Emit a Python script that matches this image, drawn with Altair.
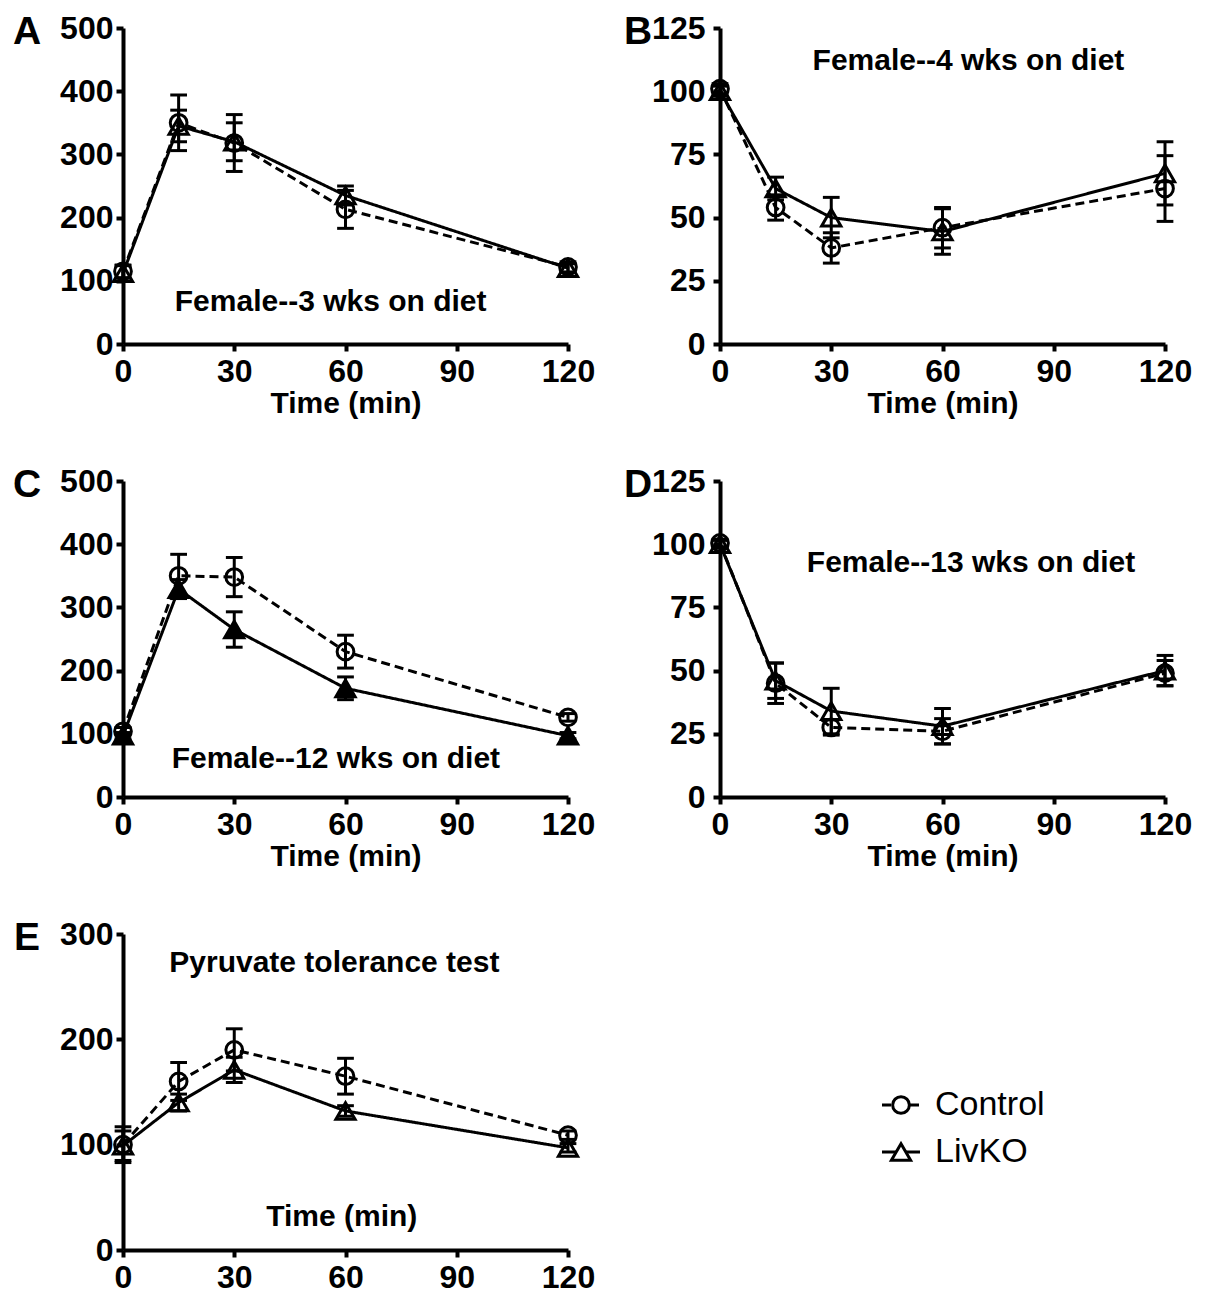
import altair as alt
import pandas as pd

# ---------------- data ----------------
times = [0, 15, 30, 60, 120]
series_names = ["Control", "LivKO"]

a_ctrl = [115, 350, 318, 213, 122]
a_ctrl_err = [10, 44, 45, 30, 8]
a_ko = [112, 345, 320, 235, 120]
a_ko_err = [12, 25, 30, 15, 7]

b_ctrl = [101, 54, 38, 46, 61.5]
b_ctrl_err = [2, 5, 6, 8, 13]
b_ko = [100, 61.5, 50, 44.5, 67.5]
b_ko_err = [2, 4.5, 8, 9, 12.5]

c_ctrl = [104, 350, 348, 230, 126]
c_ctrl_err = [6, 34, 31, 26, 6]
c_ko = [97, 329, 265, 172, 97]
c_ko_err = [5, 15, 28, 18, 5]

d_ctrl = [100.5, 45, 27.5, 26, 49]
d_ctrl_err = [1.5, 8, 3, 5, 5]
d_ko = [100, 46, 34, 28, 50]
d_ko_err = [1.5, 7, 9, 7, 6]

e_ctrl = [100, 160, 190, 165, 109]
e_ctrl_err = [17, 18, 20, 17, 4]
e_ko = [99, 140, 171, 132, 97]
e_ko_err = [14, 8, 12, 5, 4]

x_ticks = [0, 30, 60, 90, 120]

# ---------------- style ----------------
FONT = "Liberation Sans, Arial, Helvetica, sans-serif"
W, H = 445, 316
LW = 3

def make_panel(letter, ctrl, ctrl_err, ko, ko_err, ymax, ystep, notes,
               x_title=True, ko_filled=False, ypad=3):
    rows = []
    for s, vals, errs in (("Control", ctrl, ctrl_err), ("LivKO", ko, ko_err)):
        for t, v, e in zip(times, vals, errs):
            fill = "black" if (s == "LivKO" and ko_filled) else "transparent"
            rows.append({"time": t, "value": v, "lo": v - e, "hi": v + e,
                         "series": s, "fillc": fill})
    df = pd.DataFrame(rows)

    xaxis = alt.Axis(values=x_ticks, title="Time (min)" if x_title else "",
                     labelFlush=False, labelPadding=5, titlePadding=1)
    yaxis = alt.Axis(values=list(range(0, ymax + 1, ystep)), title="",
                     labelPadding=ypad)
    xs = alt.Scale(domain=[0, 120], nice=False, zero=False)
    ys = alt.Scale(domain=[0, ymax], nice=False)

    X = alt.X("time:Q", scale=xs, axis=xaxis)
    base = alt.Chart(df)

    rule = base.mark_rule(strokeWidth=LW, color="black").encode(
        x=X, y=alt.Y("lo:Q", scale=ys, axis=yaxis), y2="hi:Q")
    cap_lo = base.mark_point(shape="stroke", size=280, strokeWidth=LW,
                             color="black", opacity=1).encode(
        x=X, y=alt.Y("lo:Q", scale=ys, axis=yaxis))
    cap_hi = base.mark_point(shape="stroke", size=280, strokeWidth=LW,
                             color="black", opacity=1).encode(
        x=X, y=alt.Y("hi:Q", scale=ys, axis=yaxis))
    line = base.mark_line(strokeWidth=LW, color="black").encode(
        x=X, y=alt.Y("value:Q", scale=ys, axis=yaxis),
        detail="series:N",
        strokeDash=alt.StrokeDash("series:N", legend=None,
                                  scale=alt.Scale(domain=series_names,
                                                  range=[[9, 5], [1, 0]])))
    pts = base.mark_point(strokeWidth=LW, color="black", opacity=1).encode(
        x=X, y=alt.Y("value:Q", scale=ys, axis=yaxis),
        shape=alt.Shape("series:N", legend=None,
                        scale=alt.Scale(domain=series_names,
                                        range=["circle", "triangle-up"])),
        size=alt.Size("series:N", legend=None,
                      scale=alt.Scale(domain=series_names, range=[280, 370])),
        fill=alt.Fill("fillc:N", scale=None))

    layers = [rule, cap_lo, cap_hi, line, pts]
    for txt, tx, ty in notes:
        ndf = pd.DataFrame({"t": [txt], "x": [tx], "y": [ty]})
        layers.append(alt.Chart(ndf).mark_text(
            font=FONT, fontSize=30, fontWeight="bold", color="black",
            align="center", baseline="middle").encode(
            x=alt.X("x:Q", scale=xs, axis=xaxis),
            y=alt.Y("y:Q", scale=ys, axis=yaxis), text="t:N"))
    ldf = pd.DataFrame({"t": [letter]})
    layers.append(alt.Chart(ldf).mark_text(
        font=FONT, fontSize=39, fontWeight="bold", color="black",
        align="center", baseline="alphabetic").encode(
        x=alt.value(-96 if letter in "ACE" else -82), y=alt.value(16),
        text="t:N"))
    return alt.layer(*layers).properties(width=W, height=H)


pA = make_panel("A", a_ctrl, a_ctrl_err, a_ko, a_ko_err, 500, 100,
                [("Female--3 wks on diet", 56, 66)])
pB = make_panel("B", b_ctrl, b_ctrl_err, b_ko, b_ko_err, 125, 25,
                [("Female--4 wks on diet", 67, 112)], ypad=8)
pC = make_panel("C", c_ctrl, c_ctrl_err, c_ko, c_ko_err, 500, 100,
                [("Female--12 wks on diet", 57.4, 60)], ko_filled=True)
pD = make_panel("D", d_ctrl, d_ctrl_err, d_ko, d_ko_err, 125, 25,
                [("Female--13 wks on diet", 67.7, 92.7)], ypad=8)
pE = make_panel("E", e_ctrl, e_ctrl_err, e_ko, e_ko_err, 300, 100,
                [("Pyruvate tolerance test", 57, 272), ("Time (min)", 59, 31)],
                x_title=False)

# ---------------- legend ----------------
leg = pd.DataFrame({"series": series_names, "idx": [0, 1]})
ly = alt.Y("idx:Q", scale=alt.Scale(domain=[0, 1], range=[171, 218]), axis=None)
lbase = alt.Chart(leg)
leg_line = lbase.mark_rule(strokeWidth=LW, color="black").encode(
    x=alt.value(162), x2=alt.value(200), y=ly,
    strokeDash=alt.StrokeDash("series:N", legend=None,
                              scale=alt.Scale(domain=series_names,
                                              range=[[8, 5], [1, 0]])))
leg_pt = lbase.mark_point(strokeWidth=LW, color="black", opacity=1,
                          fill="white", filled=False).encode(
    x=alt.value(181), y=ly,
    shape=alt.Shape("series:N", legend=None,
                    scale=alt.Scale(domain=series_names,
                                    range=["circle", "triangle-up"])),
    size=alt.Size("series:N", legend=None,
                  scale=alt.Scale(domain=series_names, range=[260, 340])))
leg_txt = lbase.mark_text(font=FONT, fontSize=34, color="black",
                          align="left", baseline="middle").encode(
    x=alt.value(215), y=ly, text="series:N")
pL = alt.layer(leg_line, leg_pt, leg_txt).properties(width=W, height=H)

chart = alt.concat(pA, pB, pC, pD, pE, pL, columns=2,
                   spacing={"row": 137, "column": 152}, bounds="flush")

chart = chart.configure_view(stroke=None).configure_axis(
    domainColor="black", domainWidth=4, tickColor="black", tickWidth=4,
    tickSize=7, grid=False, labelFont=FONT, labelFontSize=32,
    labelFontWeight="bold", labelColor="black", titleFont=FONT,
    titleFontSize=30, titleFontWeight="bold", titleColor="black"
).properties(padding={"left": 4, "top": 4, "right": 5, "bottom": 5},
             background="white")

chart.save("out.html", embed_options={"renderer": "svg", "actions": False})
